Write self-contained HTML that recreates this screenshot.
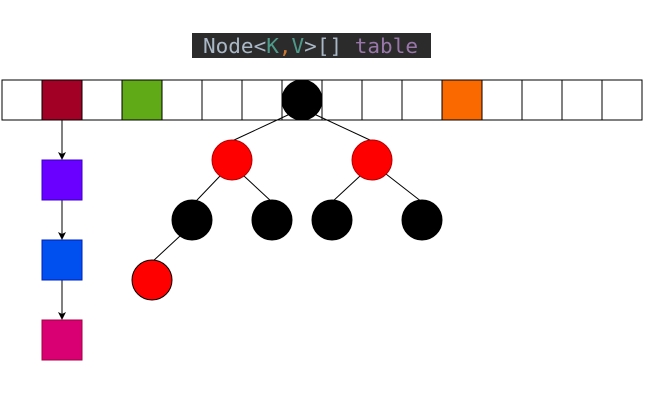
<!DOCTYPE html>
<html><head><style>body{margin:0;background:#fff}</style></head><body>
<svg width="667" height="406" xmlns="http://www.w3.org/2000/svg">
<defs><marker id="a" markerWidth="8" markerHeight="8" refX="7" refY="4" orient="auto" markerUnits="userSpaceOnUse"><path d="M0,0 L8,4 L0,8 L2,4 z" fill="#000"/></marker></defs>
<rect x="192" y="33" width="239" height="25" fill="#2b2b2b"/>
<text x="203" y="53" style="font-family:'DejaVu Sans Mono','Liberation Mono',monospace;font-size:20px" fill="#a9b7c6" textLength="215" lengthAdjust="spacingAndGlyphs">Node&lt;<tspan fill="#4e9a8a">K</tspan><tspan fill="#cc7832">,</tspan><tspan fill="#4e9a8a">V</tspan>&gt;[] <tspan fill="#9876aa">table</tspan></text>
<g stroke="#000" stroke-width="1">
<rect x="2" y="80" width="40" height="40" fill="#fff"/>
<rect x="42" y="80" width="40" height="40" fill="#a20025"/>
<rect x="82" y="80" width="40" height="40" fill="#fff"/>
<rect x="122" y="80" width="40" height="40" fill="#60a917"/>
<rect x="162" y="80" width="40" height="40" fill="#fff"/>
<rect x="202" y="80" width="40" height="40" fill="#fff"/>
<rect x="242" y="80" width="40" height="40" fill="#fff"/>
<rect x="282" y="80" width="40" height="40" fill="#fff"/>
<rect x="322" y="80" width="40" height="40" fill="#fff"/>
<rect x="362" y="80" width="40" height="40" fill="#fff"/>
<rect x="402" y="80" width="40" height="40" fill="#fff"/>
<rect x="442" y="80" width="40" height="40" fill="#fa6800"/>
<rect x="482" y="80" width="40" height="40" fill="#fff"/>
<rect x="522" y="80" width="40" height="40" fill="#fff"/>
<rect x="562" y="80" width="40" height="40" fill="#fff"/>
<rect x="602" y="80" width="40" height="40" fill="#fff"/>
<line x1="62" y1="120" x2="62" y2="159" marker-end="url(#a)"/>
<line x1="62" y1="200" x2="62" y2="239" marker-end="url(#a)"/>
<line x1="62" y1="280" x2="62" y2="319" marker-end="url(#a)"/>
<rect x="42" y="160" width="40" height="40" fill="#6a00ff" stroke="#3700cc"/>
<rect x="42" y="240" width="40" height="40" fill="#0050ef" stroke="#001dbc"/>
<rect x="42" y="320" width="40" height="40" fill="#d80073" stroke="#a50040"/>
<line x1="290" y1="114" x2="232" y2="141"/>
<line x1="314" y1="114" x2="372" y2="141"/>
<line x1="220" y1="176" x2="178" y2="220"/>
<line x1="244" y1="176" x2="272" y2="202"/>
<line x1="360" y1="176" x2="332" y2="202"/>
<line x1="386" y1="174" x2="422" y2="202"/>
<line x1="180" y1="236" x2="152" y2="262"/>
<circle cx="302" cy="100" r="20" fill="#000"/>
<circle cx="232" cy="160" r="20" fill="#f00" stroke="#b20000"/>
<circle cx="372" cy="160" r="20" fill="#f00" stroke="#b20000"/>
<circle cx="192" cy="220" r="20" fill="#000"/>
<circle cx="272" cy="220" r="20" fill="#000"/>
<circle cx="332" cy="220" r="20" fill="#000"/>
<circle cx="422" cy="220" r="20" fill="#000"/>
<circle cx="152" cy="280" r="20" fill="#f00" stroke="#000"/>
</g>
</svg>
</body></html>
